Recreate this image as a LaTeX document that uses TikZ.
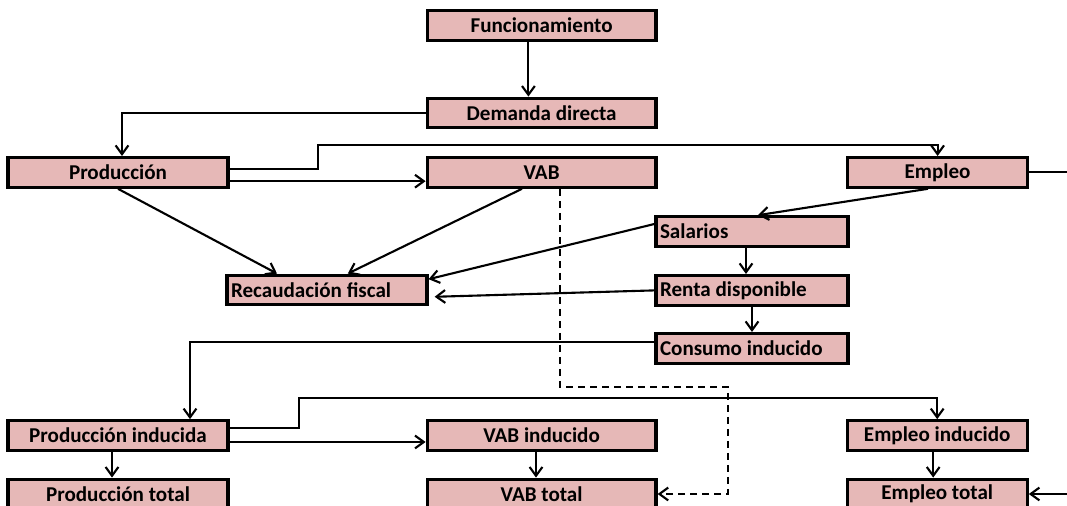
\documentclass[tikz,border=0pt]{standalone}
\usepackage{fontspec}
\setmainfont{Carlito}
\usetikzlibrary{positioning,arrows.meta,calc}
\definecolor{boxfill}{HTML}{E6B8B7}

\tikzset{
  box/.style={draw=black,line width=2.3pt,fill=boxfill,minimum height=.74cm,inner sep=1pt,font=\bfseries\fontsize{15}{17}\selectfont},
  lbox/.style={box,text width=#1,align=flush left,inner xsep=.1cm},
  arr/.style={-{Straight Barb[length=2.2mm,width=3.2mm]},line width=1.5pt},
}

\begin{document}
\begin{tikzpicture}[x=1cm,y=1cm]
\useasboundingbox (0,0) rectangle (26.675,12.65);
\clip (0,0) rectangle (26.675,12.65);
% direct effects
\node[box,minimum width=5.72cm] (fun) at (13.54,12.01){Funcionamiento};
\node[box,minimum width=5.72cm] (dem) at (13.54,9.825){Demanda directa};
\node[box,minimum width=5.5cm] (prod) at (2.95,8.34){Producción};
\node[box,minimum width=5.72cm] (vab) at (13.54,8.34){VAB};
\node[box,minimum width=4.5cm] (emp) at (23.44,8.34){Empleo};
\node[lbox=4.6cm] (sal) at (18.8,6.86){Salarios};
\node[lbox=4.8cm] (rec) at (8.175,5.4){Recaudación fiscal};
\node[lbox=4.6cm] (renta) at (18.8,5.39){Renta disponible};
\node[lbox=4.6cm] (cons) at (18.8,3.94){Consumo inducido};
% induced effects
\node[box,minimum width=5.5cm] (pind) at (2.95,1.76){Producción inducida};
\node[box,minimum width=5.72cm] (vind) at (13.54,1.76){VAB inducido};
\node[box,minimum width=4.5cm] (eind) at (23.43,1.76){Empleo inducido};
\node[box,minimum width=5.5cm] (ptot) at (2.95,.3){Producción total};
\node[box,minimum width=5.72cm] (vtot) at (13.54,.3){VAB total};
\node[box,minimum width=4.5cm] (etot) at (23.43,.3){Empleo total};

\draw[arr] ([xshift=-3.3mm]fun.south) -- ([xshift=-3.3mm]dem.north);
\draw[arr] (dem.west) -| ([xshift=1mm]prod.north);
\draw[arr] ([yshift=.9mm]prod.east) -| (7.95,9.03) -| (emp.north);
\draw[arr] ([yshift=-2.2mm]prod.east) -- ([yshift=-2.2mm]vab.west);
\draw[arr] (emp.east) -- ++(1.5,0) |- (etot.east);
\draw[arr] (prod.south) -- ([xshift=-12.5mm]rec.north);
\draw[arr] ([xshift=-4.9mm]vab.south) -- ([xshift=5.2mm]rec.north);
\draw[arr] ([xshift=-2.4mm]emp.south) -- ([xshift=1.5mm]sal.north);
\draw[arr] ([yshift=1.9mm]sal.west) -- ([yshift=2.7mm]rec.east);
\draw[arr] (renta.west) -- ([xshift=1.5mm,yshift=-1.7mm]rec.east);
\draw[arr] ([xshift=-1.5mm]sal.south) -- ([xshift=-1.5mm]renta.north);
\draw[arr] (renta.south) -- (cons.north);
\draw[arr] ([yshift=1.6mm]cons.west) -| ([xshift=18mm]pind.north);
\draw[arr] ([yshift=1.9mm]pind.east) -| (7.48,2.7) -| (eind.north);
\draw[arr] ([yshift=-1.6mm]pind.east) -- ([yshift=-1.6mm]vind.west);
\draw[arr] ([xshift=-1.5mm]pind.south) -- ([xshift=-1.5mm]ptot.north);
\draw[arr] ([xshift=-1.4mm]vind.south) -- ([xshift=-1.4mm]vtot.north);
\draw[arr] ([xshift=-1mm]eind.south) -- ([xshift=-1mm]etot.north);
\draw[arr,dash pattern=on 1.75mm off 1.25mm] ([xshift=4.6mm]vab.south) |- (18.2,2.98) |- (vtot.east);
\end{tikzpicture}
\end{document}
